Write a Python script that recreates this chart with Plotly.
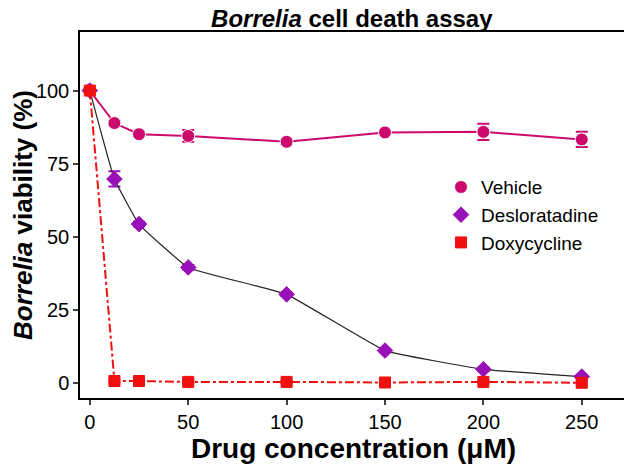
import plotly.graph_objects as go

conc = [0, 12.5, 25, 50, 100, 150, 200, 250]
vehicle = [100, 88.9, 85.1, 84.5, 82.5, 85.7, 85.9, 83.3]
vehicle_err = [0.8, 0.8, 0.8, 2.0, 0.8, 0.8, 2.8, 2.6]
deslor = [100, 69.8, 54.4, 39.6, 30.4, 11.2, 4.8, 2.3]
deslor_err = [0.5, 2.6, 0.8, 0.8, 0.6, 0.6, 0.6, 0.6]
doxy = [100, 0.8, 0.8, 0.5, 0.5, 0.3, 0.5, 0.2]
doxy_err = [0.5, 0.5, 0.5, 0.5, 0.5, 0.5, 0.5, 0.5]

series_names = ["Vehicle", "Desloratadine", "Doxycycline"]
x_ticks = [0, 50, 100, 150, 200, 250]
y_ticks = [0, 25, 50, 75, 100]

FONT = "Arial, Liberation Sans, sans-serif"
MAG = "#cc0a6e"
PUR = "#9a10b8"
RED = "#f01010"

styles = [
    dict(y=vehicle, err=vehicle_err, line=dict(color=MAG, width=2),
         marker=dict(symbol="circle", size=13, color=MAG, line=dict(color="white", width=1)),
         ecol=MAG),
    dict(y=deslor, err=deslor_err, line=dict(color="#222222", width=1.2, shape="spline", smoothing=0.3),
         marker=dict(symbol="diamond", size=12, color=PUR, line=dict(color=PUR, width=1)),
         ecol=PUR),
    dict(y=doxy, err=doxy_err, line=dict(color=RED, width=2, dash="dashdot"),
         marker=dict(symbol="square", size=11, color=RED, line=dict(color=RED, width=1)),
         ecol=RED),
]

fig = go.Figure()
for name, s in zip(series_names, styles):
    fig.add_trace(go.Scatter(
        x=conc, y=s["y"], name=name, mode="lines+markers", showlegend=False,
        line=s["line"], marker=s["marker"],
        error_y=dict(type="data", array=s["err"], color=s["ecol"], thickness=2, width=6),
    ))
for name, s in zip(series_names, styles):
    fig.add_trace(go.Scatter(
        x=[None], y=[None], name=name, mode="markers", showlegend=True,
        marker=s["marker"],
    ))

fig.update_layout(
    width=632, height=469,
    margin=dict(l=72, r=13, t=24, b=79),
    paper_bgcolor="white", plot_bgcolor="white",
    font=dict(family=FONT, color="black"),
    title=dict(text="<b><i>Borrelia</i> cell death assay</b>", x=0.544, xanchor="center",
               yref="container", y=0.995, yanchor="top", pad=dict(t=0, b=0, l=0, r=0),
               font=dict(size=24, family=FONT, color="black")),
    legend=dict(x=0.66, y=0.628, xanchor="left", yanchor="top",
                font=dict(size=19, family=FONT, color="black"),
                bgcolor="rgba(0,0,0,0)", itemwidth=30, tracegroupgap=0),
    showlegend=True,
)
fig.update_xaxes(
    range=[-5, 273], tickvals=x_ticks, ticks="outside", ticklen=5, tickwidth=1.5,
    showline=True, linecolor="black", linewidth=1.5, mirror=True, showgrid=False, zeroline=False,
    tickfont=dict(size=20, family=FONT, color="black"), automargin=False,
    title=dict(text="<b>Drug concentration (μM)</b>", font=dict(size=28, family=FONT, color="black"), standoff=3),
)
fig.update_yaxes(
    range=[-5, 120], tickvals=y_ticks, ticks="outside", ticklen=5, tickwidth=1.5,
    showline=True, linecolor="black", linewidth=1.5, mirror=True, showgrid=False, zeroline=False,
    tickfont=dict(size=20, family=FONT, color="black"), automargin=False,
    title=dict(text="<b><i>Borrelia</i> viability (%)</b>", font=dict(size=26, family=FONT, color="black"), standoff=7),
)

fig.write_html("out.html")
